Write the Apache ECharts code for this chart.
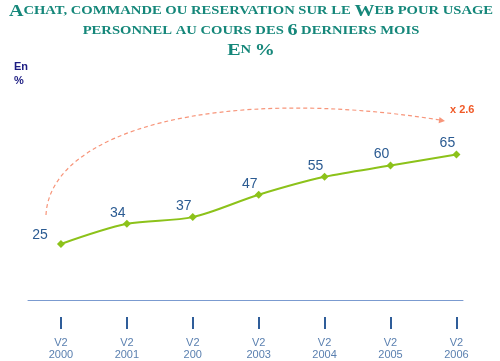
<!DOCTYPE html>
<html><head><meta charset="utf-8">
<script src="https://cdn.jsdelivr.net/npm/echarts@6/dist/echarts.min.js"></script>
<style>html,body{margin:0;padding:0;background:#fff}#c{width:500px;height:361px}</style>
</head><body><div id="c"></div>
<script>
var categories = ['V2\n2000', 'V2\n2001', 'V2\n200', 'V2\n2003', 'V2\n2004', 'V2\n2005', 'V2\n2006'];
var values = [25, 34, 37, 47, 55, 60, 65];
var growthLabel = 'x 2.6';
var unitLabel = 'En\n%';
var titleText = '{b|A}{s|CHAT, COMMANDE OU RESERVATION SUR LE }{b|W}{s|EB POUR USAGE}\n{s|PERSONNEL AU COURS DES }{b|6}{s| DERNIERS MOIS}\n{b|E}{s|N }{b|%}';

var chart = echarts.init(document.getElementById('c'), null, {renderer: 'canvas'});
var idx = categories.map(function (c, i) { return i; });
var seriesData = values.map(function (v, i) {
  var d = {value: [i, v]};
  if (i === 0) d.label = {offset: [-21, 7]};
  return d;
});
var serif = '"Liberation Serif", "DejaVu Serif", serif';
var teal = '#15877a';
chart.setOption({
  animation: false,
  grid: {left: 28, right: 37, top: 76, bottom: 60},
  xAxis: [{
    type: 'value', min: -0.5, max: 6.1,
    axisLine: {show: true, lineStyle: {color: '#7b9bd0', width: 1}},
    axisTick: {show: false}, axisLabel: {show: false}, splitLine: {show: false}
  }, {
    type: 'value', min: -0.5, max: 6.1, position: 'bottom', offset: 17,
    axisLine: {show: false},
    axisTick: {show: true, customValues: idx, length: 12, lineStyle: {color: '#2f5d99', width: 2}},
    axisLabel: {show: true, customValues: idx, margin: 20, color: '#5b80b0', fontSize: 11, lineHeight: 12,
      fontFamily: '"Liberation Sans", Arial, sans-serif',
      formatter: function (v) { return categories[Math.round(v)] || ''; }},
    splitLine: {show: false}
  }],
  yAxis: {type: 'value', min: 0, max: 100, show: false},
  series: [{
    type: 'line', xAxisIndex: 0, data: seriesData, smooth: 0.3,
    symbol: 'diamond', symbolSize: 8,
    lineStyle: {color: '#8cc21a', width: 2},
    itemStyle: {color: '#8cc21a'},
    label: {show: true, position: 'top', offset: [-9, 5], color: '#2b5b92', fontSize: 14,
      fontFamily: '"Liberation Sans", Arial, sans-serif',
      formatter: function (p) { return p.value[1]; }}
  }],
  graphic: [
    {type: 'text', x: 251, y: 1.5, scaleX: 1.18, scaleY: 1,
      style: {text: titleText, align: 'center', verticalAlign: 'top',
        rich: {
          b: {fontFamily: serif, fontWeight: 'bold', fontSize: 17, fill: teal, lineHeight: 19.5},
          s: {fontFamily: serif, fontWeight: 'bold', fontSize: 12.4, fill: teal, lineHeight: 19.5}
        }}},
    {type: 'text', left: 14, top: 60, style: {text: unitLabel, fill: '#1c1c82', font: 'bold 11px "Liberation Sans", Arial, sans-serif', lineHeight: 14}},
    {type: 'bezierCurve', shape: {x1: 46, y1: 215, cpx1: 50, cpy1: 130, cpx2: 220, cpy2: 85, x2: 440, y2: 120},
      style: {stroke: '#f7957a', lineWidth: 1.2, lineDash: [4, 3], fill: null}},
    {type: 'polygon', shape: {points: [[445, 121], [438.6, 123.3], [439.5, 117.1]]}, style: {fill: '#f7957a'}},
    {type: 'text', x: 450, y: 104, style: {text: growthLabel, fill: '#f05a28', font: 'bold 11px "Liberation Sans", Arial, sans-serif'}}
  ]
});
</script></body></html>
